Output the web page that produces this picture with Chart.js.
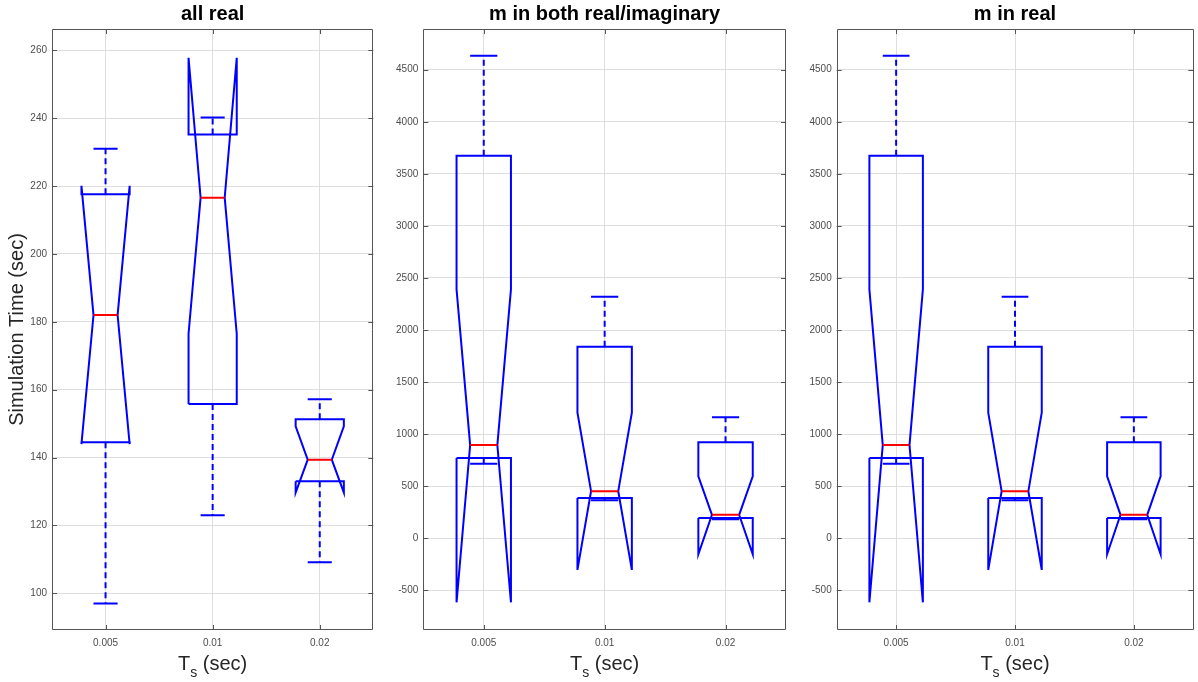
<!DOCTYPE html>
<html>
<head>
<meta charset="utf-8">
<title>Simulation time boxplots</title>
<script src="https://cdn.jsdelivr.net/npm/chart.js@4.4.1/dist/chart.umd.min.js"></script>
<style>
    html, body { margin: 0; padding: 0; background: #fff; }
    #wrap { position: relative; width: 1198px; height: 682px; overflow: hidden; }
    canvas { position: absolute; top: 0; }
    .xlabel {
        position: absolute;
        top: 651px;
        height: 24px;
        line-height: 24px;
        text-align: center;
        white-space: nowrap;
        font-family: "Liberation Sans", Arial, Helvetica, sans-serif;
        font-size: 20px;
        color: #262626;
    }
    .xlabel .sub { font-size: 14px; position: relative; top: 7px; }
</style>
</head>
<body>
<div id="wrap">
    <canvas id="chart-all-real" width="380" height="682" style="left:0"></canvas>
    <canvas id="chart-m-both" width="410" height="682" style="left:380px"></canvas>
    <canvas id="chart-m-real" width="408" height="682" style="left:790px"></canvas>
</div>
<script>
const categories = ['0.005', '0.01', '0.02'];

// all real
const allRealLow = [97, 123, 109.2];
const allRealQ1 = [144.5, 155.8, 133];
const allRealMedian = [182, 216.6, 139.4];
const allRealQ3 = [217.6, 235.2, 151.3];
const allRealHigh = [231, 240.2, 157.2];
const allRealNotchLo = [144, 176.5, 129.7];
const allRealNotchHi = [220.1, 257.8, 149.2];
const allRealTicks = [100, 120, 140, 160, 180, 200, 220, 240, 260];

// m in both real/imaginary
const mBothLow = [716, 365, 182];
const mBothQ1 = [770, 387, 195];
const mBothMedian = [895, 452, 225];
const mBothQ3 = [3674, 1840, 922];
const mBothHigh = [4634, 2320, 1162];
const mBothNotchLo = [-615, -304, -154];
const mBothNotchHi = [2390, 1206, 596];

// m in real
const mRealLow = [716, 365, 182];
const mRealQ1 = [770, 387, 195];
const mRealMedian = [895, 452, 225];
const mRealQ3 = [3674, 1840, 922];
const mRealHigh = [4634, 2320, 1162];
const mRealNotchLo = [-615, -304, -154];
const mRealNotchHi = [2390, 1206, 596];

const bigTicks = [-500, 0, 500, 1000, 1500, 2000, 2500, 3000, 3500, 4000, 4500];

/*************** styles ***************/
const FONT = '"Liberation Sans", Arial, Helvetica, sans-serif';
const BLUE = '#0000ff';
const RED = '#ff0000';
const GRID = '#dedede';
const AXIS = '#555555';
const BOX_HALF = 0.225; // half box width, in category units

Chart.defaults.font.family = FONT;

// frame round the plot area, with inward tick marks like matlab
const axesBox = {
    id: 'axesBox',
    afterDatasetsDraw(chart) {
        const { ctx, chartArea: a, scales: { x, y } } = chart;
        ctx.save();
        ctx.strokeStyle = AXIS;
        ctx.lineWidth = 1;
        ctx.beginPath();
        ctx.rect(Math.round(a.left) + 0.5, Math.round(a.top) + 0.5,
            Math.round(a.right - a.left) - 1, Math.round(a.bottom - a.top) - 1);
        x.ticks.forEach(t => {
            const px = Math.round(x.getPixelForValue(t.value)) + 0.5;
            ctx.moveTo(px, a.bottom); ctx.lineTo(px, a.bottom - 5);
            ctx.moveTo(px, a.top); ctx.lineTo(px, a.top + 5);
        });
        y.ticks.forEach(t => {
            const py = Math.round(y.getPixelForValue(t.value)) + 0.5;
            ctx.moveTo(a.left, py); ctx.lineTo(a.left + 5, py);
            ctx.moveTo(a.right, py); ctx.lineTo(a.right - 5, py);
        });
        ctx.stroke();
        ctx.restore();
    }
};

// turn the stats arrays into line datasets (null y breaks the line)
function buildDatasets(s) {
    const outline = [], stems = [], caps = [], medians = [];
    categories.forEach((c, i) => {
        const x = i + 1, w = BOX_HALF, n = BOX_HALF / 2;
        outline.push(
            { x: x - w, y: s.q1[i] }, { x: x - w, y: s.nlo[i] }, { x: x - n, y: s.med[i] },
            { x: x - w, y: s.nhi[i] }, { x: x - w, y: s.q3[i] },
            { x: x + w, y: s.q3[i] }, { x: x + w, y: s.nhi[i] }, { x: x + n, y: s.med[i] },
            { x: x + w, y: s.nlo[i] }, { x: x + w, y: s.q1[i] }, { x: x - w, y: s.q1[i] },
            { x: x, y: null }
        );
        stems.push(
            { x: x, y: s.q3[i] }, { x: x, y: s.high[i] }, { x: x, y: null },
            { x: x, y: s.q1[i] }, { x: x, y: s.low[i] }, { x: x, y: null }
        );
        caps.push(
            { x: x - n, y: s.high[i] }, { x: x + n, y: s.high[i] }, { x: x, y: null },
            { x: x - n, y: s.low[i] }, { x: x + n, y: s.low[i] }, { x: x, y: null }
        );
        medians.push({ x: x - n, y: s.med[i] }, { x: x + n, y: s.med[i] }, { x: x, y: null });
    });
    const line = (data, color, dash) => ({
        data,
        showLine: true,
        spanGaps: false,
        borderColor: color,
        borderWidth: 2,
        borderDash: dash || [],
        pointRadius: 0,
        fill: false,
        tension: 0
    });
    // first dataset is drawn on top
    return [
        line(medians, RED),
        line(outline, BLUE),
        line(caps, BLUE),
        line(stems, BLUE, [6, 4])
    ];
}

function makePanel(id, title, stats, yTicks, yMin, yMax, leftWidth, rightPad, yTitle) {
    const canvas = document.getElementById(id);
    const chart = new Chart(canvas, {
        type: 'scatter',
        data: { datasets: buildDatasets(stats) },
        options: {
            responsive: false,
            animation: false,
            events: [],
            layout: { padding: { left: 0, right: rightPad, top: 0, bottom: 0 } },
            plugins: {
                legend: { display: false },
                tooltip: { enabled: false },
                title: {
                    display: true,
                    text: title,
                    fullSize: false,
                    color: '#000',
                    font: { size: 20, weight: 'bold' },
                    padding: { top: 2, bottom: 3 }
                }
            },
            scales: {
                x: {
                    type: 'linear',
                    min: 0.5,
                    max: 3.5,
                    afterBuildTicks: s => { s.ticks = categories.map((c, i) => ({ value: i + 1 })); },
                    afterFit: s => { s.height = 52; },
                    ticks: {
                        callback: v => categories[v - 1],
                        color: '#4d4d4d',
                        font: { size: 10 },
                        padding: 7,
                        maxRotation: 0,
                        autoSkip: false
                    },
                    grid: { color: GRID, drawTicks: false },
                    border: { display: false }
                },
                y: {
                    min: yMin,
                    max: yMax,
                    afterBuildTicks: s => { s.ticks = yTicks.map(v => ({ value: v })); },
                    afterFit: s => { s.width = leftWidth; },
                    ticks: {
                        callback: v => String(v),
                        color: '#4d4d4d',
                        font: { size: 10 },
                        padding: 5
                    },
                    grid: { color: GRID, drawTicks: false },
                    border: { display: false },
                    title: {
                        display: !!yTitle,
                        text: yTitle || '',
                        color: '#262626',
                        font: { size: 20 },
                        padding: { top: 5, bottom: 0 }
                    }
                }
            }
        },
        plugins: [axesBox]
    });

    // x axis label with a real subscript, centred under the plot area
    const area = chart.chartArea;
    const label = document.createElement('div');
    label.className = 'xlabel';
    label.style.left = (canvas.offsetLeft + area.left) + 'px';
    label.style.width = (area.right - area.left) + 'px';
    label.innerHTML = 'T<span class="sub">s</span> (sec)';
    document.getElementById('wrap').appendChild(label);
    return chart;
}

makePanel('chart-all-real', 'all real', {
    low: allRealLow, q1: allRealQ1, med: allRealMedian, q3: allRealQ3,
    high: allRealHigh, nlo: allRealNotchLo, nhi: allRealNotchHi
}, allRealTicks, 89.2, 266.3, 52, 6.7, 'Simulation Time (sec)');

makePanel('chart-m-both', 'm in both real/imaginary', {
    low: mBothLow, q1: mBothQ1, med: mBothMedian, q3: mBothQ3,
    high: mBothHigh, nlo: mBothNotchLo, nhi: mBothNotchHi
}, bigTicks, -881, 4891, 43.3, 4, null);

makePanel('chart-m-real', 'm in real', {
    low: mRealLow, q1: mRealQ1, med: mRealMedian, q3: mRealQ3,
    high: mRealHigh, nlo: mRealNotchLo, nhi: mRealNotchHi
}, bigTicks, -881, 4891, 46.7, 4.7, null);
</script>
</body>
</html>
